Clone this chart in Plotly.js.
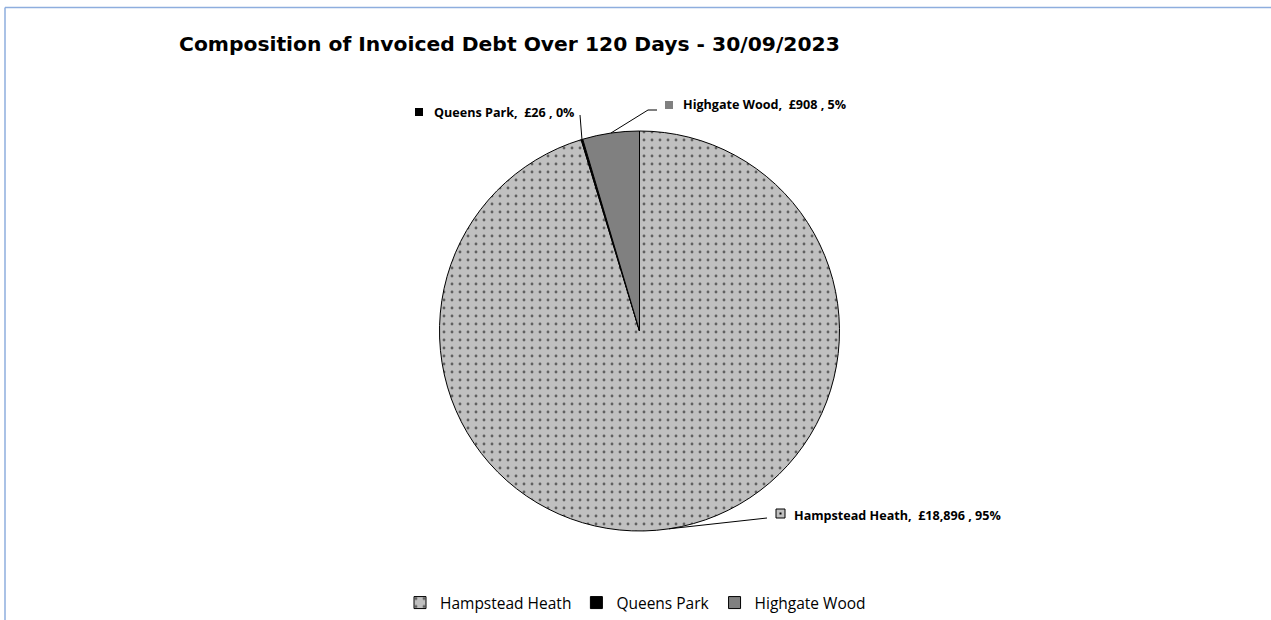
<!DOCTYPE html>
<html><head><meta charset="utf-8">
<script src="https://cdn.plot.ly/plotly-3.0.1.min.js"></script>
<style>html,body{margin:0;padding:0;background:#fff}#chart{width:1271px;height:620px}</style>
</head><body><div id="chart"></div>
<script>
const categories = ['Hampstead Heath', 'Queens Park', 'Highgate Wood'];
const values = [18896, 26, 908];
const sliceColors = ['#c0c0c0', '#000000', '#808080'];
const patternShapes = ['.', '', ''];
const titleText = 'Composition of Invoiced Debt Over 120 Days - 30/09/2023';

const W = 1271, H = 620;
const cx = 639.5, cy = 331, r = 200;
const px = x => x / W;
const py = y => 1 - y / H;

const total = values.reduce((a, b) => a + b, 0);
// mid-angle (clockwise from 12 o'clock) of each slice, from the data
const mids = [];
let acc = 0;
values.forEach(v => { const a0 = acc; acc += v / total * 360; mids.push((a0 + acc) / 2); });
const edge = i => {
  const t = mids[i] * Math.PI / 180;
  return [cx + r * Math.sin(t), cy - r * Math.cos(t)];
};
const fmt = v => '£' + v.toLocaleString('en-GB');
const pct = v => Math.round(v / total * 100) + '%';
const labelText = i => categories[i] + ',  ' + fmt(values[i]) + ' , ' + pct(values[i]);

// label placement (text anchors / leader tails), pixels
const labelPos = [
  {tx: 792, ty: 515, tail: [[767, 518]], box: [776, 509, 785, 518]},
  {tx: 432, ty: 112, tail: [[580, 115]], box: [415, 108, 423, 116]},
  {tx: 681, ty: 105, tail: [[648, 110], [657, 110]], box: [665, 101, 673, 109]}
];

const shapes = [
  {type: 'line', xref: 'paper', yref: 'paper', x0: px(5), y0: py(7.5), x1: 1, y1: py(7.5), line: {color: '#8eaede', width: 1.5}},
  {type: 'line', xref: 'paper', yref: 'paper', x0: px(5), y0: py(7.5), x1: px(5), y1: 0, line: {color: '#8eaede', width: 1.5}}
];
const annotations = [];
labelPos.forEach((lp, i) => {
  const pts = [edge(i)].concat(lp.tail);
  const path = pts.map((p, k) => (k ? 'L' : 'M') + px(p[0]) + ',' + py(p[1])).join(' ');
  shapes.push({type: 'path', xref: 'paper', yref: 'paper', path: path, line: {color: '#000', width: 1}});
  const b = lp.box;
  shapes.push({type: 'rect', xref: 'paper', yref: 'paper', x0: px(b[0]), y0: py(b[1]), x1: px(b[2]), y1: py(b[3]),
    fillcolor: sliceColors[i], line: {color: i === 0 ? '#000' : sliceColors[i], width: i === 0 ? 1 : 0}});
  if (i === 0) {
    const mx = (b[0] + b[2]) / 2, my = (b[1] + b[3]) / 2;
    shapes.push({type: 'rect', xref: 'paper', yref: 'paper', x0: px(mx - 1), y0: py(my - 1), x1: px(mx + 1), y1: py(my + 1),
      fillcolor: '#000', line: {width: 0}});
  }
  annotations.push({xref: 'paper', yref: 'paper', x: px(lp.tx), y: py(lp.ty), xanchor: 'left', yanchor: 'middle',
    text: labelText(i), showarrow: false, font: {family: 'Open Sans, sans-serif', size: 12.6, weight: 700, color: '#000'}});
});

const trace = {
  type: 'pie',
  labels: categories,
  values: values,
  sort: false,
  direction: 'clockwise',
  rotation: 0,
  textinfo: 'none',
  hoverinfo: 'label+value+percent',
  marker: {
    colors: sliceColors,
    line: {color: '#000', width: 1},
    pattern: {shape: patternShapes, fillmode: 'overlay', fgcolor: '#000', size: 8, solidity: 0.1}
  },
  domain: {x: [px(cx - r), px(cx + r)], y: [py(cy + r), py(cy - r)]}
};

const layout = {
  width: W, height: H,
  margin: {l: 0, r: 0, t: 0, b: 0},
  paper_bgcolor: '#fff',
  title: {text: titleText, x: px(179), xanchor: 'left', xref: 'paper', y: py(44), yanchor: 'middle',
    font: {family: 'DejaVu Sans, sans-serif', size: 20.3, weight: 700, color: '#000'}},
  showlegend: true,
  legend: {orientation: 'h', x: 0.5, xanchor: 'center', y: py(603), yanchor: 'middle',
    font: {family: 'Open Sans, sans-serif', size: 15.5, color: '#000'}, itemwidth: 30},
  shapes: shapes,
  annotations: annotations
};
Plotly.newPlot('chart', [trace], layout, {displayModeBar: false, staticPlot: true});
</script></body></html>
